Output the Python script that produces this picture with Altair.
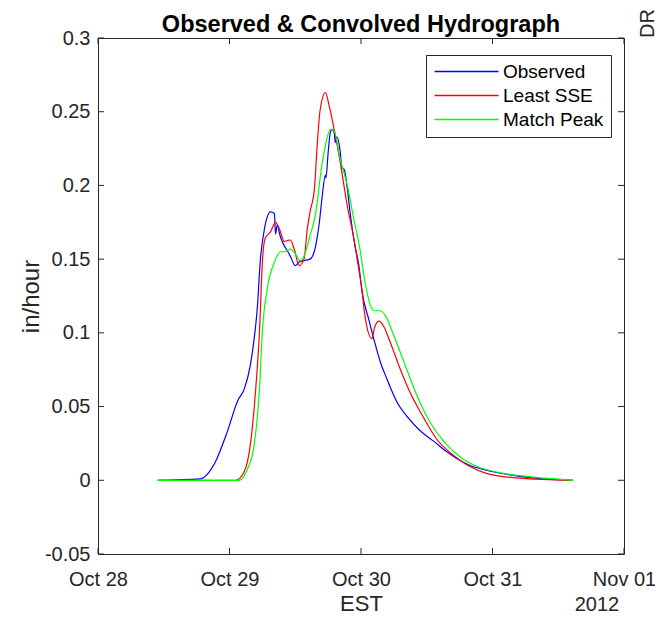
import altair as alt
import pandas as pd

# ---------------- data ----------------
series_names = ["Observed", "Least SSE", "Match Peak"]
series_colors = ["#0000ff", "#ff0000", "#00ff00"]

# hours since Oct 28 2012 00:00 EST
obs_hours = [10.9, 18.7, 21.3, 23.6, 25.5, 26.7, 27.8, 28.5, 29.1, 29.6, 30.4, 31.5, 32.2, 32.4, 32.7,
             33.3, 34.0, 34.5, 35.1, 36.0, 36.7, 37.6, 38.7, 39.6, 40.4, 40.9, 41.5, 41.6, 42.0, 42.4,
             42.7, 43.1, 43.3, 43.6, 44.2, 44.5, 44.9, 45.5, 46.0, 46.9, 47.6, 48.2, 49.5, 50.4, 51.5,
             52.7, 54.5, 56.4, 58.7, 61.3, 63.6, 67.8, 70.9, 76.9, 86.7]
obs_vals = [0, 0.001, 0.0115, 0.033, 0.054, 0.062, 0.078, 0.096, 0.118, 0.148, 0.171, 0.182, 0.181, 0.167, 0.173,
            0.165, 0.159, 0.156, 0.152, 0.1456, 0.148, 0.149, 0.150, 0.157, 0.175, 0.192, 0.207, 0.205, 0.222, 0.236,
            0.238, 0.236, 0.229, 0.233, 0.223, 0.212, 0.211, 0.198, 0.182, 0.159, 0.146, 0.128, 0.108, 0.095, 0.0806,
            0.069, 0.0535, 0.0433, 0.0339, 0.0264, 0.0196, 0.0102, 0.0068, 0.0027, 0.0]

sse_hours = [10.9, 25.1, 26.7, 27.8, 28.7, 29.5, 30.0, 30.5, 31.5, 32.4, 33.1, 34.0, 34.5, 35.1, 35.8,
             36.7, 37.6, 38.2, 38.7, 39.5, 40.0, 40.5, 41.5, 42.2, 43.1, 44.2, 45.5, 46.7, 47.3, 48.2,
             48.7, 50.0, 50.5, 51.3, 52.2, 53.3, 55.1, 56.9, 59.5, 61.8, 64.9, 67.8, 70.9, 76.9, 86.7]
sse_vals = [0, 0, 0.006, 0.024, 0.058, 0.103, 0.148, 0.164, 0.1686, 0.175, 0.1706, 0.162, 0.1625, 0.163, 0.157,
            0.1456, 0.150, 0.1706, 0.182, 0.198, 0.227, 0.25, 0.263, 0.254, 0.238, 0.216, 0.186, 0.164, 0.150, 0.128,
            0.112, 0.096, 0.104, 0.108, 0.104, 0.094, 0.076, 0.060, 0.042, 0.028, 0.0169, 0.0095, 0.0047, 0.0014, 0.0]

peak_hours = [10.9, 25.8, 27.3, 28.5, 29.5, 30.0, 30.9, 32.2, 33.3, 34.2, 35.1, 36.0, 36.9, 37.6, 38.7,
              39.5, 40.0, 40.5, 41.5, 42.4, 43.1, 44.2, 45.5, 46.7, 47.8, 48.7, 50.0, 50.5, 51.5, 52.4,
              54.0, 55.8, 58.2, 60.5, 63.1, 66.0, 69.1, 74.0, 80.0, 86.7]
peak_vals = [0, 0, 0.008, 0.024, 0.064, 0.101, 0.130, 0.148, 0.155, 0.155, 0.157, 0.1537, 0.149, 0.152, 0.166,
             0.177, 0.188, 0.204, 0.227, 0.238, 0.237, 0.218, 0.2, 0.177, 0.157, 0.135, 0.1165, 0.115, 0.115, 0.112,
             0.098, 0.0806, 0.0575, 0.040, 0.0264, 0.0162, 0.0095, 0.0047, 0.002, 0.0]

x_tick_hours = [0, 24, 48, 72, 96]
x_tick_labels = ["Oct 28", "Oct 29", "Oct 30", "Oct 31", "Nov 01"]
y_ticks = [-0.05, 0, 0.05, 0.1, 0.15, 0.2, 0.25, 0.3]
year_label = "2012"
title_text = "Observed & Convolved Hydrograph"
x_title = "EST"
y_title = "in/hour"
edge_text = "DRO"

# ---------------- tables ----------------
frames = []
for name, hrs, vals in zip(series_names, [obs_hours, sse_hours, peak_hours], [obs_vals, sse_vals, peak_vals]):
    frames.append(pd.DataFrame({"series": name, "hour": hrs, "value": vals}))
df = pd.concat(frames, ignore_index=True)

xt = pd.DataFrame({"hour": x_tick_hours})
yt = pd.DataFrame({"value": y_ticks})

W, H = 526, 516
FONT = "Liberation Sans"
AX = "#262626"
TL = 6

labels_js = "[" + ",".join("'" + s + "'" for s in x_tick_labels) + "]"

xscale = alt.Scale(domain=[0, 96], nice=False, zero=False)
yscale = alt.Scale(domain=[-0.05, 0.3], nice=False, zero=False)

x_axis = alt.Axis(values=x_tick_hours, labelExpr=labels_js + "[round(datum.value/24)]",
                  title=x_title, grid=False, ticks=False, domain=False,
                  labelFont=FONT, labelFontSize=20, labelColor=AX, labelPadding=15,
                  labelOverlap=False, labelFlush=False,
                  titleFont=FONT, titleFontSize=22, titleFontWeight="normal", titleColor=AX,
                  titlePadding=4)
y_axis = alt.Axis(values=y_ticks, labelExpr="'' + datum.value",
                  title=y_title, grid=False, ticks=False, domain=False,
                  labelFont=FONT, labelFontSize=20, labelColor=AX, labelPadding=8,
                  labelOverlap=False, labelFlush=False,
                  titleFont=FONT, titleFontSize=24, titleFontWeight="normal", titleColor=AX,
                  titlePadding=1)

X = alt.X("hour:Q", scale=xscale, axis=x_axis)
Y = alt.Y("value:Q", scale=yscale, axis=y_axis)

lines = alt.Chart(df).mark_line(strokeWidth=1.2, interpolate="monotone", clip=True).encode(
    x=X, y=Y,
    color=alt.Color("series:N", scale=alt.Scale(domain=series_names, range=series_colors),
                    legend=alt.Legend(title=None, orient="none", legendX=328, legendY=17,
                                      symbolType="M-4,0H4", symbolSize=256, symbolStrokeWidth=1.5,
                                      symbolOffset=24, symbolOpacity=1,
                                      labelFont=FONT, labelFontSize=19, labelColor="black",
                                      labelOffset=27, fillColor="white", strokeColor=AX,
                                      padding=7, rowPadding=4)),
)

tick_bottom = alt.Chart(xt).mark_rule(color=AX, strokeWidth=1).encode(
    x=X, y=alt.value(H), y2=alt.value(H - TL))
tick_top = alt.Chart(xt).mark_rule(color=AX, strokeWidth=1).encode(
    x=X, y=alt.value(0), y2=alt.value(TL))
tick_left = alt.Chart(yt).mark_rule(color=AX, strokeWidth=1).encode(
    y=Y, x=alt.value(0), x2=alt.value(TL))
tick_right = alt.Chart(yt).mark_rule(color=AX, strokeWidth=1).encode(
    y=Y, x=alt.value(W), x2=alt.value(W - TL))

year = alt.Chart(pd.DataFrame({"t": [year_label], "hour": [x_tick_hours[-1]]})).mark_text(
    font=FONT, fontSize=20, color=AX, dx=-27, baseline="top").encode(
    x=X, y=alt.value(H + 41), text="t:N")

title = alt.Chart(pd.DataFrame({"t": [title_text]})).mark_text(
    font=FONT, fontSize=23.5, fontWeight="bold", color="black", align="center",
    baseline="alphabetic").encode(
    x=alt.value(W / 2), y=alt.value(-6), text="t:N")

edge = alt.Chart(pd.DataFrame({"t": [edge_text]})).mark_text(
    font=FONT, fontSize=20, color=AX, angle=270, align="left", baseline="alphabetic").encode(
    x=alt.value(W + 30), y=alt.value(0), text="t:N")

chart = alt.layer(lines, tick_bottom, tick_top, tick_left, tick_right, year, title, edge).properties(
    width=W, height=H,
    padding={"left": 90, "top": 30, "right": 31, "bottom": 61},
    autosize=alt.AutoSizeParams(type="none"),
).configure(font=FONT, background="white").configure_view(stroke=AX, strokeWidth=1)

chart.save("out.html", embed_options={"renderer": "svg", "actions": False})
